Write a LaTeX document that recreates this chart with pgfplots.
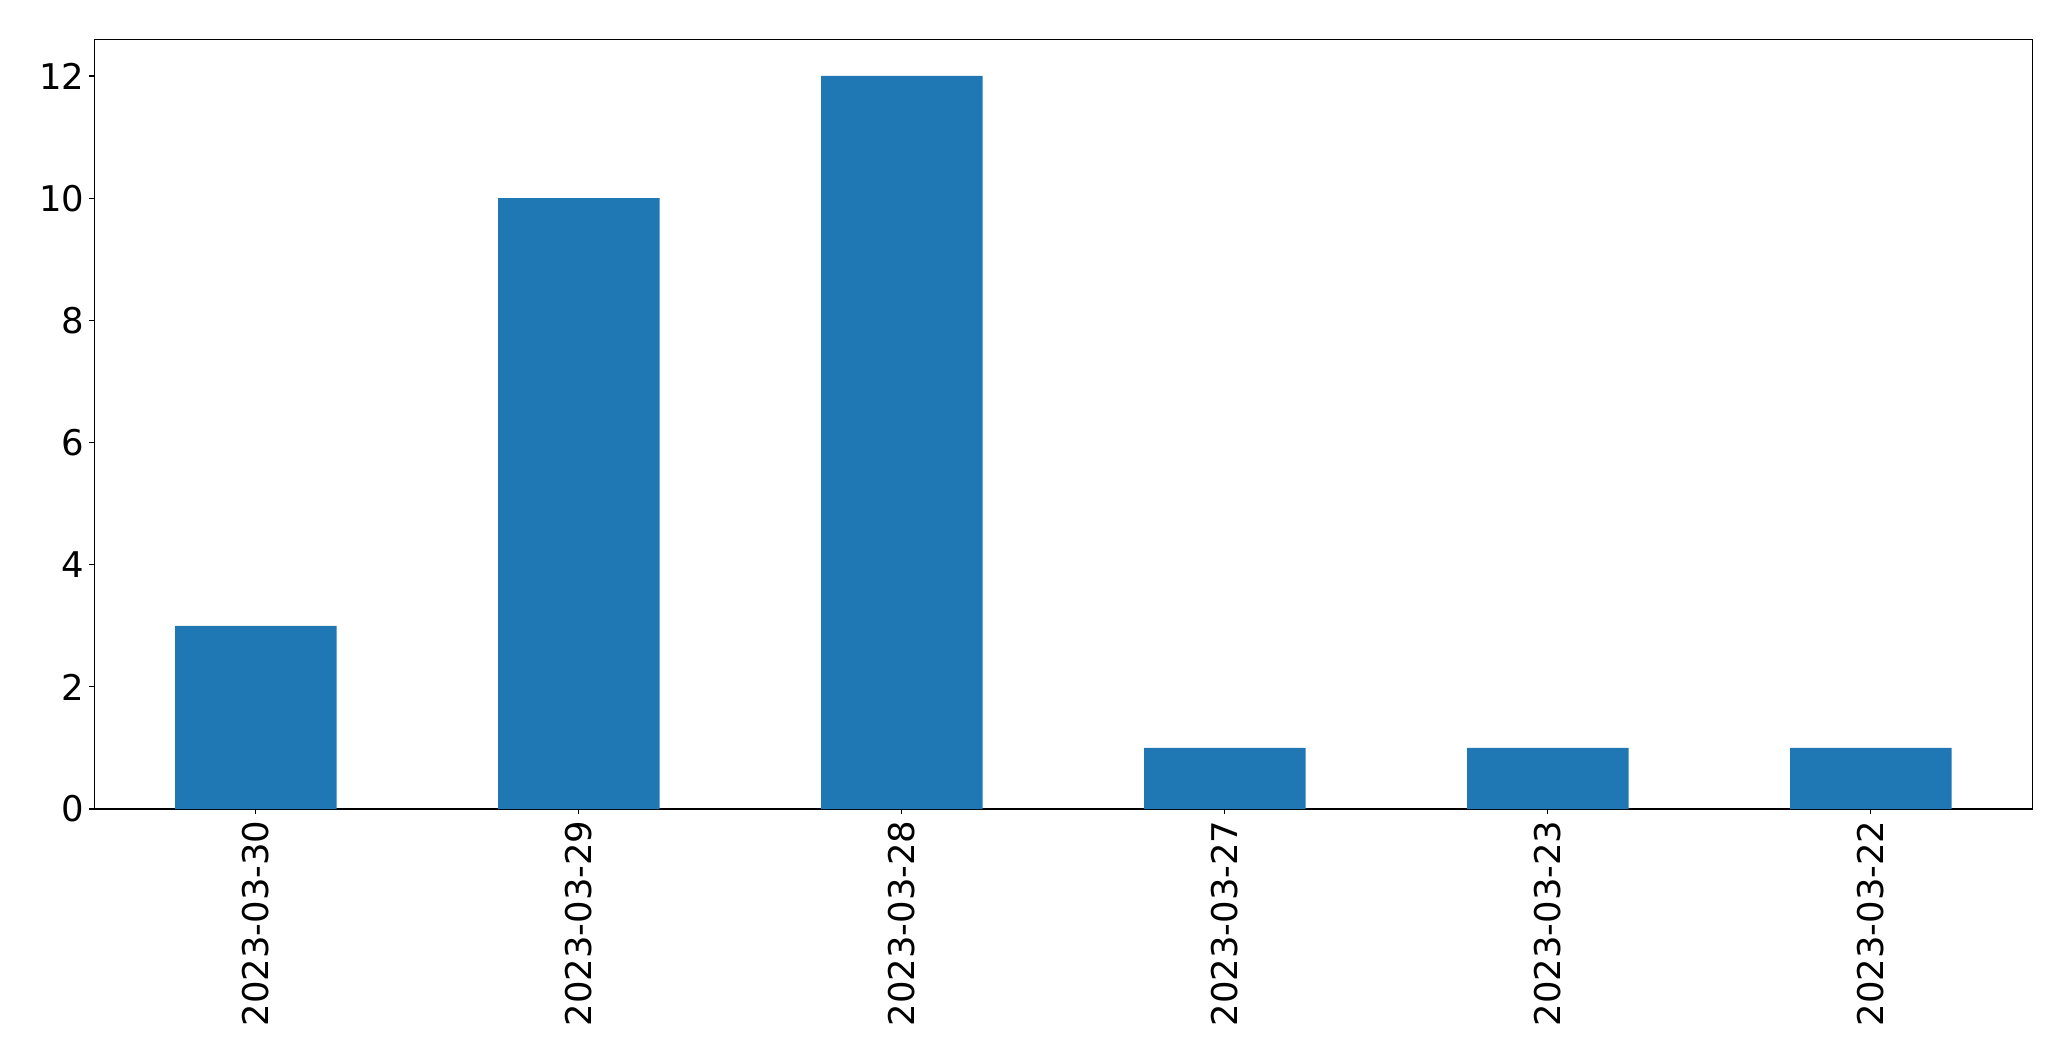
\documentclass[border=0pt]{standalone}
\usepackage{pgfplots}
\pgfplotsset{compat=1.18}
\usepackage{fontspec}
\setmainfont{DejaVu Sans}
\definecolor{mplblue}{HTML}{1F77B4}
\begin{document}
\begin{tikzpicture}
\path (-67.9pt,-181.4pt) rectangle (1423.2pt,582.5pt);
\begin{axis}[
  at={(0,0)}, anchor=south west,
  scale only axis,
  width=1395.4pt, height=554.2pt,
  xmin=-0.5, xmax=5.5, ymin=0, ymax=12.6,
  xtick={0,1,2,3,4,5},
  xticklabels={2023-03-30,2023-03-29,2023-03-28,2023-03-27,2023-03-23,2023-03-22},
  ytick={0,2,4,6,8,10,12},
  tick align=outside, tick pos=left,
  major tick length=3.5pt,
  every tick/.style={black, line width=0.8pt},
  axis line style={line width=0.8pt},
  /pgf/number format/assume math mode=true,
  tick label style={font=\fontsize{25.5}{30}\selectfont},
  x tick label style={yshift=-4.5pt, rotate=90, anchor=east, inner sep=0pt},
  y tick label style={xshift=-3.5pt, inner sep=0pt, anchor=east},
]
\addplot[ybar, bar width=0.5, fill=mplblue, draw=none] coordinates {
(0,3) (1,10) (2,12) (3,1) (4,1) (5,1)
};
\end{axis}
\end{tikzpicture}
\end{document}
